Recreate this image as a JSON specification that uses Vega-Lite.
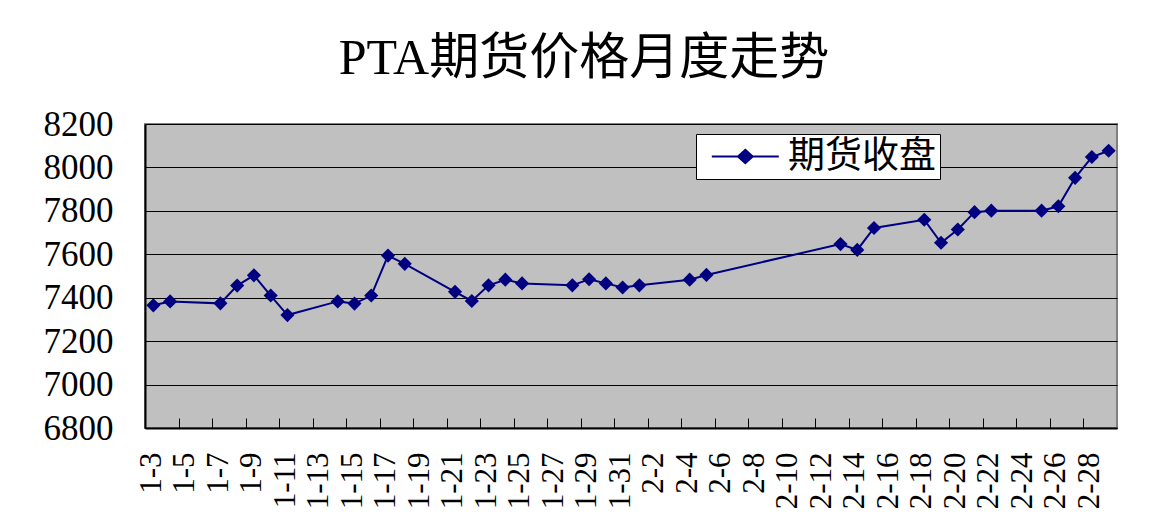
{
  "$schema": "https://vega.github.io/schema/vega-lite/v6.json",
  "autosize": "none",
  "width": 972,
  "height": 304,
  "padding": {"left": 145, "top": 124, "right": 40, "bottom": 102},
  "background": "white",
  "title": {
    "text": "PTA期货价格月度走势",
    "font": "Liberation Serif, Noto Sans CJK SC",
    "fontSize": 50,
    "fontWeight": "normal",
    "color": "black",
    "anchor": "middle",
    "dx": -47,
    "baseline": "bottom",
    "offset": -27
  },
  "data": {
    "values": [
      {"date": "2008/01/03", "price": 7365, "series": "期货收盘"},
      {"date": "2008/01/04", "price": 7383, "series": "期货收盘"},
      {"date": "2008/01/07", "price": 7374, "series": "期货收盘"},
      {"date": "2008/01/08", "price": 7456, "series": "期货收盘"},
      {"date": "2008/01/09", "price": 7503, "series": "期货收盘"},
      {"date": "2008/01/10", "price": 7410, "series": "期货收盘"},
      {"date": "2008/01/11", "price": 7320, "series": "期货收盘"},
      {"date": "2008/01/14", "price": 7383, "series": "期货收盘"},
      {"date": "2008/01/15", "price": 7373, "series": "期货收盘"},
      {"date": "2008/01/16", "price": 7410, "series": "期货收盘"},
      {"date": "2008/01/17", "price": 7594, "series": "期货收盘"},
      {"date": "2008/01/18", "price": 7556, "series": "期货收盘"},
      {"date": "2008/01/21", "price": 7427, "series": "期货收盘"},
      {"date": "2008/01/22", "price": 7385, "series": "期货收盘"},
      {"date": "2008/01/23", "price": 7457, "series": "期货收盘"},
      {"date": "2008/01/24", "price": 7483, "series": "期货收盘"},
      {"date": "2008/01/25", "price": 7466, "series": "期货收盘"},
      {"date": "2008/01/28", "price": 7457, "series": "期货收盘"},
      {"date": "2008/01/29", "price": 7485, "series": "期货收盘"},
      {"date": "2008/01/30", "price": 7466, "series": "期货收盘"},
      {"date": "2008/01/31", "price": 7447, "series": "期货收盘"},
      {"date": "2008/02/01", "price": 7457, "series": "期货收盘"},
      {"date": "2008/02/04", "price": 7483, "series": "期货收盘"},
      {"date": "2008/02/05", "price": 7505, "series": "期货收盘"},
      {"date": "2008/02/13", "price": 7647, "series": "期货收盘"},
      {"date": "2008/02/14", "price": 7620, "series": "期货收盘"},
      {"date": "2008/02/15", "price": 7721, "series": "期货收盘"},
      {"date": "2008/02/18", "price": 7759, "series": "期货收盘"},
      {"date": "2008/02/19", "price": 7653, "series": "期货收盘"},
      {"date": "2008/02/20", "price": 7714, "series": "期货收盘"},
      {"date": "2008/02/21", "price": 7794, "series": "期货收盘"},
      {"date": "2008/02/22", "price": 7801, "series": "期货收盘"},
      {"date": "2008/02/25", "price": 7801, "series": "期货收盘"},
      {"date": "2008/02/26", "price": 7821, "series": "期货收盘"},
      {"date": "2008/02/27", "price": 7952, "series": "期货收盘"},
      {"date": "2008/02/28", "price": 8048, "series": "期货收盘"},
      {"date": "2008/02/29", "price": 8077, "series": "期货收盘"}
    ]
  },
  "mark": {
    "type": "line",
    "strokeWidth": 2,
    "point": {"shape": "diamond", "filled": true, "size": 200, "opacity": 1}
  },
  "encoding": {
    "x": {
      "field": "date",
      "timeUnit": "yearmonthdate",
      "type": "temporal",
      "bandPosition": 0.5,
      "title": null,
      "scale": {
        "domain": [
          {"year": 2008, "month": 1, "date": 3},
          {"year": 2008, "month": 3, "date": 1}
        ]
      },
      "axis": {
        "values": [
          {"year": 2008, "month": 1, "date": 3},
          {"year": 2008, "month": 1, "date": 5},
          {"year": 2008, "month": 1, "date": 7},
          {"year": 2008, "month": 1, "date": 9},
          {"year": 2008, "month": 1, "date": 11},
          {"year": 2008, "month": 1, "date": 13},
          {"year": 2008, "month": 1, "date": 15},
          {"year": 2008, "month": 1, "date": 17},
          {"year": 2008, "month": 1, "date": 19},
          {"year": 2008, "month": 1, "date": 21},
          {"year": 2008, "month": 1, "date": 23},
          {"year": 2008, "month": 1, "date": 25},
          {"year": 2008, "month": 1, "date": 27},
          {"year": 2008, "month": 1, "date": 29},
          {"year": 2008, "month": 1, "date": 31},
          {"year": 2008, "month": 2, "date": 2},
          {"year": 2008, "month": 2, "date": 4},
          {"year": 2008, "month": 2, "date": 6},
          {"year": 2008, "month": 2, "date": 8},
          {"year": 2008, "month": 2, "date": 10},
          {"year": 2008, "month": 2, "date": 12},
          {"year": 2008, "month": 2, "date": 14},
          {"year": 2008, "month": 2, "date": 16},
          {"year": 2008, "month": 2, "date": 18},
          {"year": 2008, "month": 2, "date": 20},
          {"year": 2008, "month": 2, "date": 22},
          {"year": 2008, "month": 2, "date": 24},
          {"year": 2008, "month": 2, "date": 26},
          {"year": 2008, "month": 2, "date": 28}
        ],
        "format": "%-m-%-d",
        "labelAngle": 270,
        "labelAlign": "right",
        "labelBaseline": "middle",
        "labelOffset": 6,
        "labelPadding": 34,
        "labelFontSize": 31,
        "labelFont": "Liberation Serif",
        "labelColor": "black",
        "labelFlush": false,
        "labelOverlap": false,
        "labelBound": false,
        "grid": false,
        "ticks": true,
        "tickSize": -10,
        "tickColor": "black",
        "tickWidth": 1,
        "domainColor": "black",
        "domainWidth": 2
      }
    },
    "y": {
      "field": "price",
      "type": "quantitative",
      "title": null,
      "scale": {"domain": [6800, 8200], "nice": false, "zero": false},
      "axis": {
        "values": [6800, 7000, 7200, 7400, 7600, 7800, 8000, 8200],
        "format": "d",
        "labelFontSize": 35,
        "labelFont": "Liberation Serif",
        "labelColor": "black",
        "labelPadding": 32,
        "labelFlush": false,
        "labelOverlap": false,
        "ticks": false,
        "grid": true,
        "gridColor": "black",
        "gridOpacity": 1,
        "gridWidth": 1,
        "domainColor": "black",
        "domainWidth": 2
      }
    },
    "color": {
      "field": "series",
      "type": "nominal",
      "scale": {"range": ["#000080"]},
      "legend": {
        "title": null,
        "orient": "none",
        "legendX": 551,
        "legendY": 10,
        "fillColor": "white",
        "strokeColor": "black",
        "padding": 4,
        "symbolType": "M-0.4,0L3.6,0M1.6,-0.4L2.04,0L1.6,0.4L1.16,0Z",
        "symbolSize": 1122,
        "symbolStrokeWidth": 2,
        "symbolFillColor": "#000080",
        "symbolStrokeColor": "#000080",
        "symbolOpacity": 1,
        "labelFont": "Noto Sans CJK SC",
        "labelFontSize": 37,
        "labelColor": "black",
        "labelOffset": 51,
        "labelLimit": 400
      }
    }
  },
  "config": {
    "view": {"fill": "#C0C0C0", "stroke": "#808080", "strokeWidth": 2}
  }
}
